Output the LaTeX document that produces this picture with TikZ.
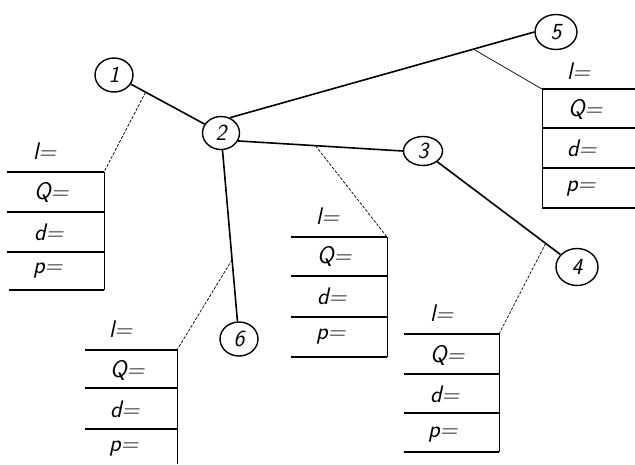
\documentclass[tikz,border=0pt]{standalone}
\usetikzlibrary{shapes.geometric}
\begin{document}
\begin{tikzpicture}[x=1pt,y=-1pt,
  joint/.style={draw, ellipse, line width=1.4pt, inner sep=0pt, font=\fontsize{23}{25}\selectfont\sffamily\itshape},
  pipe/.style={line width=1.6pt},
  leader/.style={line width=0.7pt, dash pattern=on 3pt off 1.5pt},
  leadsolid/.style={line width=0.7pt},
  rule/.style={line width=1.1pt},
  vrule/.style={line width=0.8pt},
  lbl/.style={anchor=west, inner sep=0pt, font=\fontsize{24}{26}\selectfont\sffamily\itshape}]
\useasboundingbox (0,0) rectangle (635,464);
% joints
\node[joint, minimum width=38pt, minimum height=34pt] (c1) at (114,75) {1};
\node[joint, minimum width=37pt, minimum height=33pt] (c2) at (221,133) {2};
\node[joint, minimum width=39pt, minimum height=29pt] (c3) at (423,151) {3};
\node[joint, minimum width=42pt, minimum height=37pt] (c4) at (577,267) {4};
\node[joint, minimum width=42pt, minimum height=35pt] (c5) at (556,32) {5};
\node[joint, minimum width=38pt, minimum height=34pt] (c6) at (239,339) {6};
% pipes
\draw[pipe] (c1) -- coordinate[pos=0.2] (m1) (c2);
\draw[pipe] (c2.60) -- coordinate[pos=0.8] (m5) (c5.west);
\draw[pipe] (c2.-25) -- coordinate[pos=0.47] (m2) (c3.west);
\draw[pipe] (c3) -- coordinate[pos=0.88] (m4) (c4);
\draw[pipe] (c2) -- coordinate[pos=0.64] (m3) (c6);
% table 1
\coordinate (t1) at (104,172);
\draw[leader] (m1) -- (t1);
\draw[rule] (7,172) -- (t1) (7,212) -- (104,212) (7,252) -- (104,252) (9,290) -- (104,290);
\draw[vrule] (t1) -- (104,290);
\node[lbl] (l1) at (33,151) {l=};
\node[lbl] (q1) at (34,192) {Q=};
\node[lbl] (d1) at (34,232) {d=};
\node[lbl] (p1) at (33,271) {p=};
% table 2
\coordinate (t2) at (387,237);
\draw[leader] (m2) -- (t2);
\draw[rule] (291,237) -- (t2) (291,276) -- (387,276) (291,317) -- (387,317) (291,357) -- (387,357);
\draw[vrule] (t2) -- (387,357);
\node[lbl] (l2) at (316,216) {l=};
\node[lbl] (q2) at (317,256) {Q=};
\node[lbl] (d2) at (317,296) {d=};
\node[lbl] (p2) at (316,337) {p=};
% table 3
\coordinate (t3) at (177,350);
\draw[leader] (m3) -- (t3);
\draw[rule] (85,350) -- (t3) (85,388) -- (177,388) (85,429) -- (177,429);
\draw[vrule] (t3) -- (177,464);
\node[lbl] (l3) at (109,329) {l=};
\node[lbl] (q3) at (110,370) {Q=};
\node[lbl] (d3) at (110,409) {d=};
\node[lbl] (p3) at (109,449) {p=};
% table 4
\coordinate (t4) at (499,334);
\draw[leader] (m4) -- (t4);
\draw[rule] (404,334) -- (t4) (404,374) -- (499,374) (404,413) -- (499,413) (404,452) -- (499,452);
\draw[vrule] (t4) -- (499,452);
\node[lbl] (l4) at (430,313) {l=};
\node[lbl] (q4) at (430,355) {Q=};
\node[lbl] (d4) at (430,394) {d=};
\node[lbl] (p4) at (428,435) {p=};
% table 5
\coordinate (t5) at (542,89);
\draw[leadsolid] (m5) -- (t5);
\draw[rule] (t5) -- (635,89) (542,128) -- (635,128) (542,168) -- (635,168) (542,208) -- (635,208);
\draw[vrule] (t5) -- (542,208);
\node[lbl] (l5) at (567,71) {l=};
\node[lbl] (q5) at (568,109) {Q=};
\node[lbl] (d5) at (567,148) {d=};
\node[lbl] (p5) at (566,189) {p=};
\end{tikzpicture}
\end{document}
